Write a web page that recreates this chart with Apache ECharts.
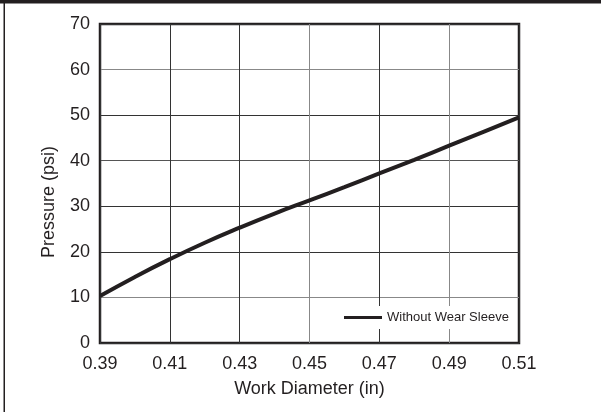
<!DOCTYPE html>
<html><head><meta charset="utf-8">
<script src="https://cdn.jsdelivr.net/npm/echarts@6/dist/echarts.min.js"></script>
<style>html,body{margin:0;padding:0;background:#fff}#c{width:601px;height:412px}</style>
</head><body><div id="c"></div>
<script>
const diameters = [0.39, 0.40, 0.41, 0.42, 0.43, 0.44, 0.45, 0.46, 0.47, 0.48, 0.49, 0.50, 0.51];
const pressure  = [10.3, 14.5, 18.4, 22.0, 25.3, 28.4, 31.3, 34.2, 37.2, 40.2, 43.3, 46.4, 49.5];
const xTicks = ['0.39','0.41','0.43','0.45','0.47','0.49','0.51'];
const yTicks = [0,10,20,30,40,50,60,70];
const seriesName = 'Without Wear Sleeve';

const FONT = '"Liberation Sans", Arial, sans-serif';
const INK = '#231f20';
const chart = echarts.init(document.getElementById('c'), null, {renderer:'canvas'});
chart.setOption({
  animation:false,
  backgroundColor:'#fff',
  grid:{left:100, right:82, top:24, bottom:69, show:true, borderColor:INK, borderWidth:2.5, backgroundColor:'transparent'},
  xAxis:{type:'value', min:0.39, max:0.51, interval:0.02,
    name:'Work Diameter (in)', nameLocation:'middle', nameGap:37,
    nameTextStyle:{fontFamily:FONT, fontSize:18, color:INK},
    axisLine:{show:false}, axisTick:{show:false},
    axisLabel:{fontFamily:FONT, fontSize:18, color:INK, margin:12,
      formatter:v=>{const s=v.toFixed(2); return xTicks.includes(s)?s:'';}},
    splitLine:{show:true, lineStyle:{width:1, color:['#333','#333','#333','#888','#333','#888','#333']}}},
  yAxis:{type:'value', min:0, max:70, interval:10,
    axisLine:{show:false}, axisTick:{show:false},
    axisLabel:{fontFamily:FONT, fontSize:18, color:INK, margin:10,
      formatter:v=>yTicks.includes(v)?String(v):''},
    splitLine:{show:true, lineStyle:{width:1, color:['#333','#888','#333','#333','#555','#333','#888','#333']}}},
  legend:{data:[seriesName], left:336, top:306, backgroundColor:'#fff', padding:[5,5,5,8],
    itemWidth:38, itemHeight:3, icon:'rect', itemGap:6,
    textStyle:{fontFamily:FONT, fontSize:13, color:INK}},
  series:[{name:seriesName, type:'line', smooth:true, symbol:'none',
    data:diameters.map((d,i)=>[d,pressure[i]]),
    lineStyle:{color:INK, width:4}, itemStyle:{color:INK}, z:3}],
  graphic:[
    {type:'rect', shape:{x:0,y:0,width:601,height:3.5}, style:{fill:INK}},
    {type:'rect', shape:{x:3.5,y:3,width:1.5,height:409}, style:{fill:INK}},
    {type:'text', x:49, y:202, rotation:Math.PI/2, style:{text:'Pressure (psi)', fontFamily:FONT, fontSize:18, fill:INK, align:'center', verticalAlign:'middle'}}
  ]
});
</script></body></html>
